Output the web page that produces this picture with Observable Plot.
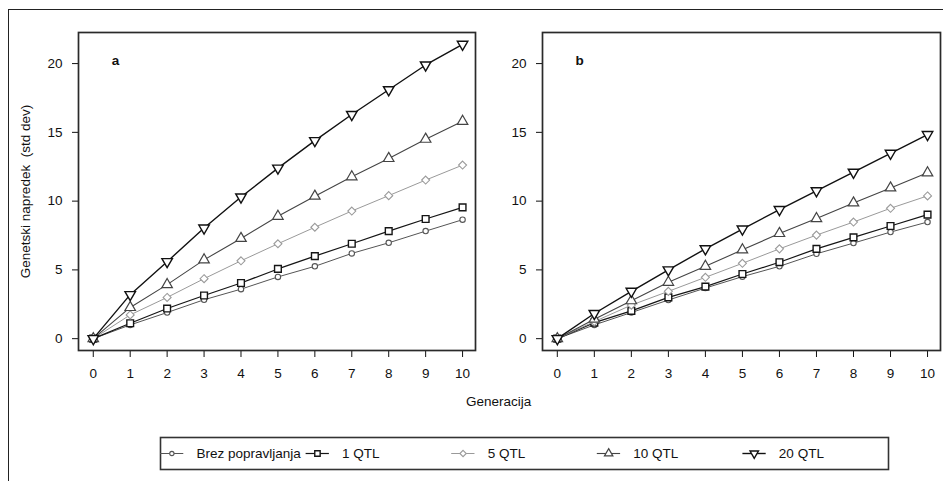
<!DOCTYPE html>
<html><head><meta charset="utf-8">
<script src="https://cdn.jsdelivr.net/npm/d3@7"></script>
<script src="https://cdn.jsdelivr.net/npm/@observablehq/plot@0.6"></script>
<style>
body{margin:0;background:#fff;}
#fig{position:relative;width:943px;height:481px;overflow:hidden;font-family:"Liberation Sans",Arial,sans-serif;color:#111;}
#outer{position:absolute;left:8px;top:9px;width:935px;height:472px;border-left:1.5px solid #222;border-top:1.5px solid #222;}
.abs{position:absolute;}
#xlab{position:absolute;left:466px;top:394px;font-size:13.5px;}
</style></head><body><div id="fig"><div id="outer"></div><div id="xlab"></div></div>
<script>
// ---- data ----
const generations = [0, 1, 2, 3, 4, 5, 6, 7, 8, 9, 10];
const seriesNames = ["Brez popravljanja", "1 QTL", "5 QTL", "10 QTL", "20 QTL"];
const yTicks = [0, 5, 10, 15, 20];
const panelLabels = ["a", "b"];
const yTitle = "Genetski napredek\u00a0 (std dev)";
const xTitle = "Generacija";

// panel a
const aBrez = [0, 1.0, 1.9, 2.83, 3.6, 4.49, 5.26, 6.2, 6.97, 7.82, 8.65];
const a1 = [0, 1.12, 2.19, 3.14, 4.05, 5.07, 6.0, 6.9, 7.82, 8.7, 9.55];
const a5 = [0, 1.73, 3.0, 4.36, 5.66, 6.9, 8.1, 9.28, 10.4, 11.53, 12.62];
const a10 = [0, 2.27, 3.93, 5.73, 7.29, 8.9, 10.36, 11.77, 13.1, 14.5, 15.8];
const a20 = [0, 3.2, 5.6, 8.04, 10.3, 12.4, 14.4, 16.3, 18.1, 19.9, 21.4];
// panel b
const bBrez = [0, 1.0, 1.9, 2.81, 3.68, 4.51, 5.26, 6.17, 6.95, 7.75, 8.48];
const b1 = [0, 1.17, 2.02, 3.0, 3.78, 4.7, 5.56, 6.53, 7.36, 8.19, 9.02];
const b5 = [0, 1.24, 2.44, 3.44, 4.46, 5.48, 6.53, 7.53, 8.48, 9.48, 10.38];
const b10 = [0, 1.42, 2.76, 4.1, 5.26, 6.46, 7.65, 8.73, 9.87, 10.96, 12.06];
const b20 = [0, 1.83, 3.44, 5.0, 6.53, 7.97, 9.39, 10.75, 12.1, 13.48, 14.84];

// ---- styles ----
const triangleDown = {
  draw(ctx, size) {
    const y = Math.sqrt(size / (3 * Math.sqrt(3)));
    ctx.moveTo(0, 2 * y);
    ctx.lineTo(-Math.sqrt(3) * y, -y);
    ctx.lineTo(Math.sqrt(3) * y, -y);
    ctx.closePath();
  }
};
const styles = [
  {color: "#555", sw: 1, symbol: "circle", r: 2.7, msw: 1.1},
  {color: "#151515", sw: 1.2, symbol: "square", r: 3.8, msw: 1.4},
  {color: "#9a9a9a", sw: 1, symbol: "diamond2", r: 3.6, msw: 1.1},
  {color: "#444", sw: 1.1, symbol: "triangle", r: 3.9, msw: 1.2},
  {color: "#111", sw: 1.4, symbol: triangleDown, r: 3.9, msw: 1.4}
];
const FONT = '"Liberation Sans", Arial, sans-serif';
const fig = document.getElementById("fig");
document.getElementById("xlab").textContent = xTitle;

function panel(seriesValues, label, left, width, mLeft, mRight, withYTitle) {
  const marks = [
    Plot.axisY(yTicks, {tickSize: 6, tickPadding: 10, fontSize: 13.5, label: null, stroke: "#111", color: "#111"}),
    Plot.axisX(generations, {tickSize: 7, tickPadding: 11, fontSize: 13.5, label: null, stroke: "#111", color: "#111"})
  ];
  seriesNames.forEach((s, k) => {
    const rows = seriesValues[k].map((v, i) => ({series: s, gen: generations[i], value: v}));
    const st = styles[k];
    marks.push(Plot.line(rows, {x: "gen", y: "value", stroke: st.color, strokeWidth: st.sw}));
    marks.push(Plot.dot(rows, {x: "gen", y: "value", symbol: st.symbol, r: st.r, stroke: st.color, strokeWidth: st.msw, fill: "white"}));
  });
  marks.push(Plot.frame({stroke: "#2a2a2a", strokeWidth: 1.7}));
  marks.push(Plot.text([label], {text: d => d, frameAnchor: "top-left", dx: 37, dy: 28, textAnchor: "middle", lineAnchor: "middle", fontWeight: "bold", fontSize: 13.5}));
  if (withYTitle) {
    marks.push(Plot.text([yTitle], {text: d => d, frameAnchor: "left", dx: -53, rotate: -90, textAnchor: "middle", lineAnchor: "middle", fontSize: 13.5}));
  }
  const p = Plot.plot({
    width, height: 420,
    marginLeft: mLeft, marginRight: mRight, marginTop: 32, marginBottom: 70,
    x: {domain: [-0.4, 10.35], axis: null},
    y: {domain: [-0.86, 22.26], axis: null},
    style: {fontFamily: FONT, fontSize: "13.5px", overflow: "visible", background: "transparent", color: "#111"},
    marks
  });
  const d = document.createElement("div");
  d.className = "abs";
  d.style.left = left + "px"; d.style.top = "0px";
  d.appendChild(p);
  fig.appendChild(d);
}

panel([aBrez, a1, a5, a10, a20], panelLabels[0], 0, 480, 78, 5, true);
panel([bBrez, b1, b5, b10, b20], panelLabels[1], 480, 463, 62, 3, false);

// ---- legend ----
const legendRows = seriesNames.map((name, i) => ({name, i}));
const legMarks = [Plot.frame({stroke: "#333", strokeWidth: 1.6})];
legendRows.forEach(d => {
  const st = styles[d.i];
  legMarks.push(Plot.ruleY([d], {y: 0, x1: q => q.i, x2: q => q.i + 0.16, stroke: st.color, strokeWidth: st.sw}));
  legMarks.push(Plot.dot([d], {x: q => q.i + 0.078, y: 0, symbol: st.symbol, r: st.r * 0.8, stroke: st.color, strokeWidth: st.msw, fill: "white"}));
});
legMarks.push(Plot.text(legendRows, {x: d => d.i + 0.247, y: 0, text: "name", textAnchor: "start", fontSize: 13.5, fill: "#111"}));
const leg = Plot.plot({
  width: 738, height: 32,
  marginLeft: 5, marginRight: 5, marginTop: 0, marginBottom: 0,
  x: {domain: [0, 5], axis: null},
  y: {domain: [-1, 1], axis: null},
  style: {fontFamily: FONT, overflow: "visible", background: "transparent"},
  marks: legMarks
});
const ld = document.createElement("div");
ld.className = "abs"; ld.style.left = "155px"; ld.style.top = "437px";
ld.appendChild(leg);
fig.appendChild(ld);
</script>
</body></html>
